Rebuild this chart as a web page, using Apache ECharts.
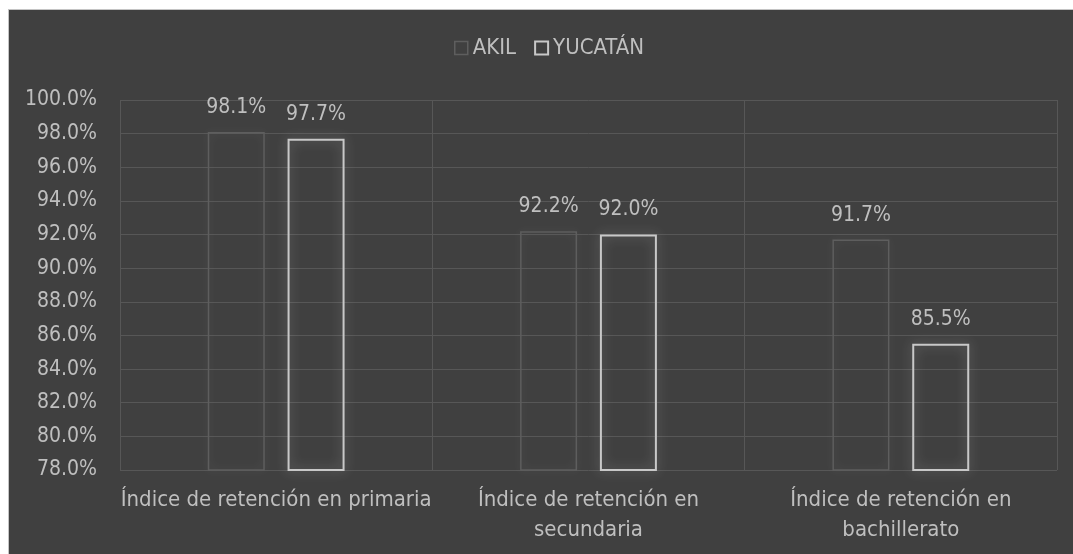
<!DOCTYPE html>
<html>
<head>
<meta charset="utf-8">
<script src="https://cdn.jsdelivr.net/npm/echarts@6/dist/echarts.min.js"></script>
<style>
  html, body { margin: 0; padding: 0; background: #fff; }
  #chart {
    position: absolute; left: 8px; top: 9px;
    width: 1065px; height: 545px;
    box-sizing: border-box;
    border-top: 1px solid #c4c4c4; border-left: 1px solid #c4c4c4;
    background: #404040;
  }
</style>
</head>
<body>
<div id="chart"></div>
<script>
// datos del gráfico
var categories = ['Índice de retención en primaria', 'Índice de retención en\nsecundaria', 'Índice de retención en\nbachillerato'];
var akil = [98.1, 92.2, 91.7];
var yucatan = [97.7, 92.0, 85.5];
var seriesNames = ['AKIL', 'YUCATÁN'];
var yMin = 78, yMax = 100, yStep = 2;

var font = '"Liberation Sans Narrow", "DejaVu Sans Condensed", sans-serif';
var txt = '#bfbfbf';

var myChart = echarts.init(document.getElementById('chart'));

function pct(v) { return v.toFixed(1) + '%'; }

var option = {
    animation: false,
    backgroundColor: '#404040',
    legend: {
        left: 440,
        top: 22,
        itemWidth: 13,
        itemHeight: 13,
        itemGap: 18,
        icon: 'rect',
        textStyle: { color: txt, fontFamily: font, fontSize: 22 },
        data: [
            { name: seriesNames[0], itemStyle: { color: 'transparent', borderColor: '#5e5e5e', borderWidth: 1.5, shadowBlur: 0 } },
            { name: seriesNames[1], itemStyle: { color: 'transparent', borderColor: '#c8c8c8', borderWidth: 2, shadowBlur: 0 } }
        ]
    },
    grid: { left: 111, right: 16, top: 90, bottom: 84 },
    xAxis: {
        type: 'category',
        data: categories,
        axisLine: { show: false },
        axisTick: { show: false },
        splitLine: { show: true, lineStyle: { color: '#575757', width: 1 } },
        axisLabel: {
            interval: 0,
            color: txt,
            fontFamily: font,
            fontSize: 22,
            lineHeight: 30,
            margin: 15,
            overflow: 'none'
        }
    },
    yAxis: {
        type: 'value',
        min: yMin,
        max: yMax,
        interval: yStep,
        axisLine: { show: false },
        axisTick: { show: false },
        splitLine: { lineStyle: { color: '#575757', width: 1 } },
        axisLabel: {
            color: txt,
            fontFamily: font,
            fontSize: 21,
            margin: 23,
            formatter: function (v) { return pct(v); }
        }
    },
    series: [
        {
            name: seriesNames[0],
            type: 'bar',
            data: akil,
            barWidth: 57,
            barGap: '40%',
            itemStyle: {
                color: 'transparent',
                borderColor: '#5e5e5e',
                borderWidth: 1.5,
                shadowBlur: 10,
                shadowColor: 'rgba(255,255,255,0.12)'
            },
            label: {
                show: true, position: 'top', distance: 14,
                color: txt, fontFamily: font, fontSize: 21,
                formatter: function (p) { return pct(p.value); }
            }
        },
        {
            name: seriesNames[1],
            type: 'bar',
            data: yucatan,
            barWidth: 57,
            itemStyle: {
                color: 'transparent',
                borderColor: '#c8c8c8',
                borderWidth: 2,
                shadowBlur: 12,
                shadowColor: 'rgba(255,255,255,0.35)'
            },
            label: {
                show: true, position: 'top', distance: 14,
                color: txt, fontFamily: font, fontSize: 21,
                formatter: function (p) { return pct(p.value); }
            }
        }
    ]
};

myChart.setOption(option);
</script>
</body>
</html>
